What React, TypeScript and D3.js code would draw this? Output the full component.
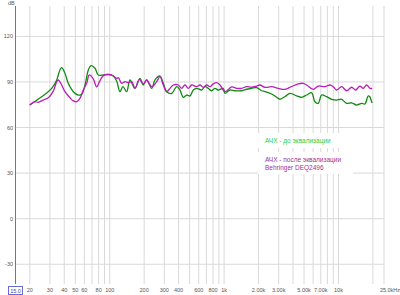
import React from "react";
import * as d3 from "d3";

const W = 400;
const H = 295;

// Frequency (Hz) / level (dB) — before EQ (green)
const greenFreq = [20, 23.1, 27.2, 31.1, 34.4, 36.7, 38, 40.6, 43.4, 48, 53.1, 56.9, 60.8, 65, 68.6, 74.3, 79.4, 87.8, 96.5, 106.8, 115, 122.9, 130.5, 140.6, 150.3, 166.2, 183.9, 196.5, 210.4, 232.7, 248.6, 275, 293.9, 314.7, 348, 384.8, 411.2, 439.5, 470.6, 502.8, 537.5, 575.6, 636.5, 680, 727, 778, 832, 889, 983, 1017, 1125, 1244, 1424, 1574, 1740, 1924, 2130, 2276, 2604, 2879, 3078, 3403, 3763, 4306, 4764, 5268, 5825, 6225, 6654, 7125, 7880, 8712, 9635, 10655, 11783, 13029, 14408, 15933, 17027, 18199, 18838, 19487, 19800];
const greenDb = [74.8, 78.1, 81.9, 85.8, 91.3, 97.9, 99.4, 95.7, 89.1, 83.6, 81.4, 81.9, 88.0, 97.9, 100.7, 99.0, 94.6, 94.6, 95.0, 94.1, 90.6, 83.6, 86.9, 83.6, 91.3, 85.8, 92.4, 88.0, 91.3, 85.8, 91.3, 93.9, 89.1, 83.6, 82.5, 86.9, 84.7, 79.9, 81.4, 80.8, 84.7, 85.8, 84.7, 86.9, 85.8, 84.2, 85.8, 84.7, 85.8, 82.5, 84.7, 84.2, 84.2, 85.2, 85.8, 86.3, 84.2, 83.7, 82.1, 79.9, 78.6, 80.3, 82.5, 80.8, 79.9, 81.4, 82.9, 77.0, 75.9, 81.4, 80.3, 78.6, 78.1, 78.6, 75.9, 76.3, 74.8, 75.9, 75.5, 80.8, 80.1, 77.0, 76.2];

// After EQ with Behringer DEQ2496 (purple)
const purpleFreq = [20, 22.2, 23.7, 26.2, 29, 32.1, 34.4, 35.5, 38, 40.6, 44.9, 48, 51.4, 54.9, 58.7, 62.9, 66.3, 71.8, 76.9, 81.3, 87.8, 97, 107, 115, 118.8, 127.2, 135.9, 145.2, 155.6, 166.2, 181.2, 196.5, 210.4, 232.7, 257.3, 275, 293.9, 314.7, 336.2, 359.4, 397.4, 425.6, 454.7, 486, 520.4, 575.6, 615, 657, 704, 752, 804, 861, 920, 1017, 1164, 1287, 1424, 1574, 1740, 1924, 2058, 2276, 2604, 2973, 3403, 3894, 4447, 4919, 5268, 6015, 6654, 7614, 8418, 8997, 9635, 10655, 11783, 13029, 14123, 15399, 16455, 17627, 18838, 19722];
const purpleDb = [74.8, 77.0, 76.6, 78.1, 79.6, 84.0, 90.2, 91.3, 88.0, 83.6, 79.6, 77.5, 77.0, 79.2, 84.7, 89.1, 94.6, 92.0, 86.7, 90.2, 94.1, 94.9, 94.1, 92.3, 92.9, 89.1, 90.2, 89.5, 90.2, 85.8, 91.7, 88.7, 91.3, 86.9, 90.2, 93.5, 88.0, 83.6, 85.8, 88.0, 88.0, 85.8, 88.0, 85.8, 88.0, 86.9, 88.0, 86.5, 88.0, 86.9, 88.7, 89.5, 88.0, 83.6, 86.7, 85.8, 85.8, 86.9, 86.5, 87.3, 88.0, 86.4, 86.9, 85.8, 85.1, 87.0, 88.7, 89.1, 88.0, 85.1, 87.3, 86.9, 88.0, 86.9, 84.7, 86.9, 84.2, 86.5, 84.7, 87.3, 85.8, 88.0, 85.8, 85.8];

const yTicks = [120, 90, 60, 30, 0, -30];
const xGrid = [20, 30, 40, 50, 60, 70, 80, 90, 100, 200, 300, 400, 500, 600, 700, 800, 900, 1000, 2000, 3000, 4000, 5000, 6000, 7000, 8000, 9000, 10000, 20000];
const xTickVals = [20, 30, 40, 50, 60, 80, 100, 200, 300, 400, 600, 800, 1000, 2000, 3000, 5000, 7000, 10000];
const xTickLabels = ["20", "30", "40", "50", "60", "80", "100", "200", "300", "400", "600", "800", "1k", "2.00k", "3.00k", "5.00k", "7.00k", "10k"];

const legendBefore = "АЧХ - до эквализации";
const legendAfter1 = "АЧХ - после эквализации";
const legendAfter2 = "Behringer DEQ2496";

export default function App() {
  const x = d3.scaleLog().domain([15, 25000]).range([15.5, 384]);
  const y = d3.scaleLinear().domain([-43, 140]).range([284, 6]);
  const line = d3
    .line<[number, number]>()
    .x((d) => x(d[0]))
    .y((d) => y(d[1]))
    .curve(d3.curveCatmullRom.alpha(0.5));
  const gData = greenFreq.map((f, i) => [f, greenDb[i]] as [number, number]);
  const pData = purpleFreq.map((f, i) => [f, purpleDb[i]] as [number, number]);
  const font = "Liberation Sans, Arial, sans-serif";

  return (
    <svg
      width={W}
      height={H}
      style={{ position: "absolute", left: 0, top: 0, background: "#fff" }}
      fontFamily={font}
    >
      <rect x={0} y={0} width={W} height={H} fill="#fff" />
      {/* grid */}
      {xGrid.map((f) => (
        <line key={"vx" + f} x1={x(f)} x2={x(f)} y1={6} y2={284} stroke="#d9d9d9" strokeWidth={1} />
      ))}
      <line x1={384} x2={384} y1={6} y2={284} stroke="#d9d9d9" strokeWidth={1} />
      {yTicks.map((v) => (
        <line key={"hy" + v} x1={15.5} x2={384} y1={y(v)} y2={y(v)} stroke="#d9d9d9" strokeWidth={1} />
      ))}
      {/* left axis */}
      <line x1={15.5} x2={15.5} y1={6} y2={284} stroke="#6a6ad8" strokeWidth={1} />
      {yTicks.map((v) => (
        <text key={"yl" + v} x={13} y={y(v) + 2} fontSize={5.5} fill="#555" textAnchor="end">
          {v}
        </text>
      ))}
      <text x={8} y={5} fontSize={5.5} fill="#555">dB</text>
      {/* x labels */}
      {xTickVals.map((f, i) => (
        <text key={"xl" + f} x={x(f)} y={292} fontSize={5.5} fill="#555" textAnchor="middle">
          {xTickLabels[i]}
        </text>
      ))}
      <text x={390} y={292} fontSize={5.5} fill="#555" textAnchor="middle">25.0kHz</text>
      <rect x={8.5} y={286.5} width={14} height={8} fill="#fff" stroke="#6a6ad8" strokeWidth={1} />
      <text x={15.5} y={292.5} fontSize={5.5} fill="#4444aa" textAnchor="middle">15.0</text>
      {/* curves */}
      <path d={line(gData) ?? ""} fill="none" stroke="#128a12" strokeWidth={1.3} />
      <path d={line(pData) ?? ""} fill="none" stroke="#b81fb8" strokeWidth={1.3} />
      {/* legend */}
      <rect x={258} y={133} width={95} height={15} fill="#fff" />
      <text x={265} y={143} fontSize={6.5} fill="#33cc33">{legendBefore}</text>
      <rect x={258} y={152} width={95} height={22} fill="#fff" />
      <text x={265} y={162} fontSize={6.5} fill="#993399">{legendAfter1}</text>
      <text x={265} y={170} fontSize={6.5} fill="#993399">{legendAfter2}</text>
    </svg>
  );
}
